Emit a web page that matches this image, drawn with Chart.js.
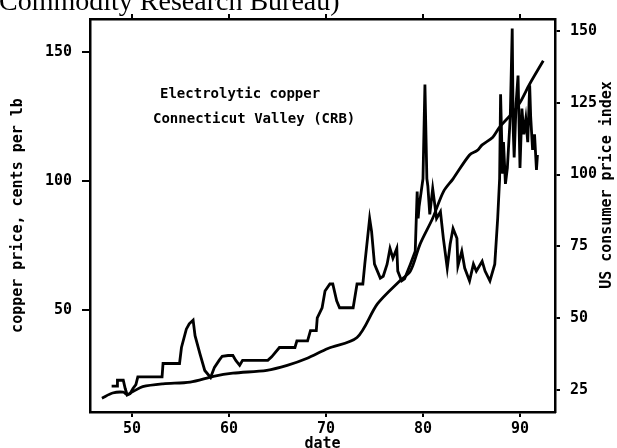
<!DOCTYPE html>
<html>
<head>
<meta charset="utf-8">
<script src="https://cdn.jsdelivr.net/npm/chart.js@4.4.1/dist/chart.umd.min.js"></script>
<style>
  html, body { margin: 0; padding: 0; background: #fff; }
  #wrap { position: relative; width: 617px; height: 448px; overflow: hidden; }
</style>
</head>
<body>
<div id="wrap"><canvas id="chart-copper" width="617" height="448"></canvas></div>
<script>
// copper price (cents per lb) - Connecticut Valley, CRB
var copperYears = [47.9, 48.5, 48.5, 49.1, 49.3, 49.5, 49.8, 50.1, 50.4, 50.6, 53.1, 53.2, 54.9, 55.1, 55.6, 55.9, 56.3, 56.5, 57.0, 57.5,
    58.1, 58.5, 59.0, 59.3, 59.9, 60.4, 60.7, 61.1, 61.4, 64.0, 64.4, 65.2, 66.8, 67.0, 68.1, 68.4, 69.0, 69.1, 69.6, 69.9,
    70.4, 70.7, 71.1, 71.4, 72.8, 73.2, 73.8, 74.0, 74.5, 74.7, 75.0, 75.6, 75.9, 76.3, 76.6, 76.9, 77.3, 77.4, 77.8, 78.1,
    78.7, 79.2, 79.4, 79.5, 79.6, 80.0, 80.2, 80.4, 80.5, 80.7, 81.0, 81.4, 81.8, 82.1, 82.5, 82.8, 83.1, 83.5, 83.6, 84.0,
    84.3, 84.8, 85.2, 85.5, 86.1, 86.4, 86.9, 87.4, 87.7, 87.9, 88.0, 88.2, 88.3, 88.5, 88.7, 89.0, 89.2, 89.3, 89.4, 89.6,
    89.8, 90.0, 90.2, 90.4, 90.6, 90.8, 91.0, 91.1, 91.3, 91.5, 91.7, 91.8];
var copperPrice = [20.4, 20.4, 22.7, 22.7, 19.5, 17.0, 17.5, 19.5, 21.0, 24.0, 24.0, 29.2, 29.2, 35.4, 42.5, 44.6, 46.0, 40.0, 33.0, 26.5,
    23.8, 27.7, 30.5, 32.0, 32.3, 32.3, 30.4, 28.5, 30.4, 30.4, 31.8, 35.4, 35.4, 38.0, 38.0, 41.9, 41.9, 46.9, 50.8, 57.3,
    60.0, 60.0, 53.5, 50.8, 50.8, 60.0, 60.0, 67.7, 85.4, 80.4, 67.7, 62.3, 63.0, 67.7, 73.8, 70.0, 73.8, 65.0, 61.2, 62.0,
    67.7, 72.7, 95.8, 85.4, 90.0, 100.8, 137.3, 100.8, 98.0, 87.0, 97.0, 85.4, 88.0, 77.7, 66.2, 75.4, 81.5, 77.7, 67.0, 72.7,
    66.2, 61.2, 67.7, 65.0, 68.8, 65.0, 61.2, 67.7, 85.4, 100.8, 133.5, 102.7, 115.0, 98.8, 105.0, 125.0, 159.0, 120.0, 109.0, 130.0,
    140.8, 105.0, 128.0, 118.0, 124.0, 115.0, 137.0, 125.0, 112.0, 118.0, 104.2, 110.0];

// US consumer price index
var cpiYears = [46.9, 48.0, 49.1, 49.5, 50.1, 51.1, 53.2, 56.0, 58.4, 60.4, 63.9, 66.0, 68.0, 70.2, 73.2, 75.3, 77.6, 78.7, 79.7, 81.0,
    82.1, 83.1, 84.8, 85.6, 86.1, 87.2, 87.9, 89.3, 90.0, 91.0, 92.4];
var cpiValues = [22.2, 24.0, 24.3, 23.5, 24.5, 26.2, 27.2, 27.8, 29.8, 30.9, 31.9, 33.6, 36.0, 39.5, 43.3, 55.0, 63.0, 66.4, 75.8, 84.8,
    94.0, 98.5, 106.8, 108.4, 110.3, 113.0, 116.5, 121.7, 125.0, 131.5, 139.6];

var dateTicks = [50, 60, 70, 80, 90];
var leftTicks = [50, 100, 150];
var rightTicks = [25, 50, 75, 100, 125, 150];

var annotLines = ['Electrolytic copper', 'Connecticut Valley (CRB)'];
var headerText = 'Commodity Research Bureau)';

function toPoints(xs, ys) {
    return xs.map(function(x, i) { return { x: x, y: ys[i] }; });
}

var tickFont = { family: '"DejaVu Sans Mono", monospace', size: 15, weight: 'bold' };
var plotFont = 'bold 15px "DejaVu Sans Mono", monospace';

function fixTicks(list) {
    return function(scale) { scale.ticks = list.map(function(v) { return { value: v }; }); };
}

// axis titles, note text and the cut header
var textPlugin = {
    id: 'texts',
    afterDraw: function(chart) {
        var ctx = chart.ctx;
        var a = chart.chartArea;
        ctx.save();
        ctx.fillStyle = '#000';

        ctx.font = '28px "Liberation Serif", serif';
        ctx.textAlign = 'left';
        ctx.textBaseline = 'alphabetic';
        ctx.fillText(headerText, -1, 10);

        ctx.font = plotFont;
        ctx.textAlign = 'center';
        ctx.textBaseline = 'middle';
        ctx.save();
        ctx.translate(18, (a.top + a.bottom) / 2);
        ctx.rotate(-Math.PI / 2);
        ctx.fillText('copper price, cents per lb', 0, 0);
        ctx.restore();

        ctx.save();
        ctx.translate(607, 185);
        ctx.rotate(-Math.PI / 2);
        ctx.fillText('US consumer price index', 0, 0);
        ctx.restore();

        ctx.fillText('date', (a.left + a.right) / 2, 444);

        ctx.font = 'bold 14px "DejaVu Sans Mono", monospace';
        ctx.textAlign = 'left';
        ctx.fillText(annotLines[0], 160, 94);
        ctx.fillText(annotLines[1], 153, 119);
        ctx.restore();
    }
};

document.addEventListener('DOMContentLoaded', function() {
    var canvas = document.getElementById('chart-copper');

    new Chart(canvas, {
        type: 'line',
        data: {
            datasets: [{
                label: 'copper',
                data: toPoints(copperYears, copperPrice),
                yAxisID: 'y',
                borderColor: '#000',
                borderWidth: 2.8,
                pointRadius: 0,
                tension: 0,
                fill: false
            }, {
                label: 'CPI',
                data: toPoints(cpiYears, cpiValues),
                yAxisID: 'y2',
                borderColor: '#000',
                borderWidth: 2.8,
                pointRadius: 0,
                tension: 0.3,
                fill: false
            }]
        },
        options: {
            responsive: false,
            animation: false,
            layout: { padding: 0 },
            plugins: { legend: { display: false }, tooltip: { enabled: false } },
            scales: {
                x: {
                    type: 'linear', position: 'bottom', min: 45.67, max: 93.61,
                    afterBuildTicks: fixTicks(dateTicks),
                    afterFit: function(s) { s.height = 36; },
                    ticks: { font: tickFont, color: '#000', padding: 3, maxRotation: 0 },
                    grid: { drawOnChartArea: false, tickLength: 5, color: '#000', lineWidth: 2 },
                    border: { color: '#000', width: 2.5 }
                },
                xTop: {
                    type: 'linear', position: 'top', min: 45.67, max: 93.61,
                    afterBuildTicks: fixTicks(dateTicks),
                    afterFit: function(s) { s.height = 16; },
                    ticks: { display: false },
                    grid: { drawOnChartArea: false, tickLength: 5, color: '#000', lineWidth: 2 },
                    border: { color: '#000', width: 2.5 }
                },
                y: {
                    type: 'linear', position: 'left', min: 10.4, max: 162.7,
                    afterBuildTicks: fixTicks(leftTicks),
                    afterFit: function(s) { s.width = 90; },
                    ticks: { font: tickFont, color: '#000', padding: 10 },
                    grid: { drawOnChartArea: false, tickLength: 8, color: '#000', lineWidth: 2 },
                    border: { color: '#000', width: 2.5 }
                },
                y2: {
                    type: 'linear', position: 'right', min: 17.4, max: 154.1,
                    afterBuildTicks: fixTicks(rightTicks),
                    afterFit: function(s) { s.width = 62; },
                    ticks: { font: tickFont, color: '#000', padding: 10 },
                    grid: { drawOnChartArea: false, tickLength: 5, color: '#000', lineWidth: 2 },
                    border: { color: '#000', width: 2.5 }
                }
            }
        },
        plugins: [textPlugin]
    });
});
</script>
</body>
</html>
